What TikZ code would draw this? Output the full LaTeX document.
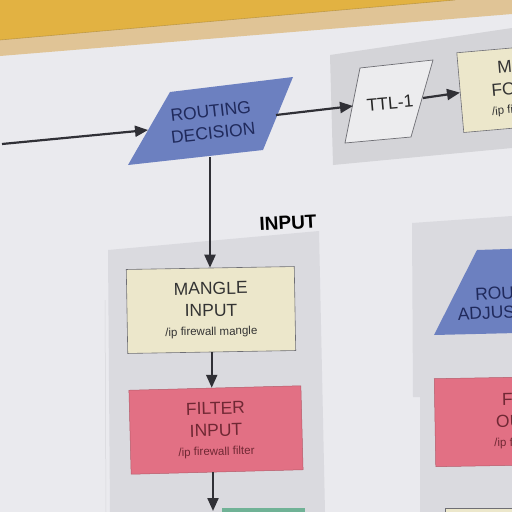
\documentclass[tikz,border=0pt]{standalone}
\usepackage{fontspec}
\setmainfont{Liberation Sans}
\usetikzlibrary{arrows.meta}

\definecolor{wall}{RGB}{226,178,66}
\definecolor{wood}{RGB}{224,196,150}
\definecolor{paper}{RGB}{234,234,238}
\definecolor{panel}{RGB}{218,218,223}
\definecolor{panelB}{RGB}{212,212,216}
\definecolor{routeblue}{RGB}{108,128,192}
\definecolor{routetext}{RGB}{32,42,92}
\definecolor{mangle}{RGB}{236,231,203}
\definecolor{filterpink}{RGB}{226,112,132}
\definecolor{filtertext}{RGB}{112,40,52}
\definecolor{ttlfill}{RGB}{236,236,238}
\definecolor{edge}{RGB}{110,110,116}
\definecolor{arrowgray}{RGB}{48,48,54}
\definecolor{acceptgreen}{RGB}{112,178,150}

\tikzset{
  flow/.style={draw=arrowgray, line width=2.2pt,
    -{Triangle[length=13pt,width=11pt]}},
  bigtext/.style={font=\fontsize{17.5}{22}\selectfont, align=center},
  mangleblock/.style={draw=edge, line width=0.6pt, fill=mangle,
    text=black!80, bigtext, inner sep=0pt},
  filterblock/.style={draw=filterpink!80!black, line width=0.5pt,
    fill=filterpink, text=filtertext, bigtext, inner sep=0pt},
}
\newcommand{\cmdline}[1]{\\[-3pt]{\fontsize{11.5}{13}\selectfont #1}}

\begin{document}
\begin{tikzpicture}[x=1pt,y=-1pt]
\useasboundingbox (0,0) rectangle (512,512);
\clip (0,0) rectangle (512,512);

% wall, wooden rail and poster sheet
\fill[paper] (0,0) rectangle (512,512);
\fill[wood] (0,0) -- (512,0) -- (512,14) -- (0,56) -- cycle;
\fill[wall] (0,0) -- (455,0) -- (0,40) -- cycle;
\draw[wall!70!black, line width=0.6pt, opacity=0.5] (0,40) -- (455,0);
\draw[paper!92!black, line width=0.5pt] (105,300) -- (106,512);

% chain panels
\fill[panelB] (330,55) -- (512,28) -- (512,148) -- (333,165) -- cycle;
\fill[panel] (108,250) -- (319,231) -- (325,512) -- (110,512) -- cycle;
\fill[panel] (412,223) -- (512,216) -- (512,512) -- (420,512) -- (420,397) -- (413,397) -- cycle;

% routing decision
\fill[routeblue] (128,165) -- (170,92) -- (293,77) -- (263,150) -- cycle;
\node[bigtext, text=routetext, rotate=6.5] (rd) at (212,122) {ROUTING\\DECISION};
\coordinate (rdW) at (148,130);
\coordinate (rdE) at (276,115);
\coordinate (rdS) at (210,157);
\coordinate (src) at (2,144);

% TTL-1
\filldraw[fill=ttlfill, draw=edge, line width=0.7pt]
  (345,143) -- (360,68) -- (433,60) -- (411,137) -- cycle;
\node[font=\fontsize{17.5}{20}\selectfont, text=black!85, rotate=5] (ttl) at (390,103) {TTL-1};
\coordinate (ttlW) at (353,106);
\coordinate (ttlE) at (423,98);

% mangle forward
\node[mangleblock, minimum width=152pt, minimum height=80pt, rotate=5] (mf) at (536,86)
  {MANGLE\\FORWARD\cmdline{/ip firewall mangle}};

% input chain
\node[font=\bfseries\fontsize{19}{22}\selectfont, rotate=3] (inlabel) at (288,223) {INPUT};
\node[mangleblock, minimum width=168pt, minimum height=84pt, rotate=1] (mi) at (211,310)
  {MANGLE\\INPUT\cmdline{/ip firewall mangle}};
\node[filterblock, minimum width=172pt, minimum height=84pt, rotate=1.5] (fi) at (216,430)
  {FILTER\\INPUT\cmdline{/ip firewall filter}};
\fill[acceptgreen] (222,508) rectangle (305,540);
\coordinate (fiOut) at (213,511);

% output chain
\fill[routeblue] (434,335) -- (477,250) -- (600,246) -- (600,331) -- cycle;
\node[bigtext, text=routetext, rotate=3, font=\fontsize{17.5}{19}\selectfont] (ra) at (516,302) {ROUTING\\ADJUSTMENT};
\node[filterblock, minimum width=194pt, minimum height=88pt, rotate=1] (fo) at (532,421)
  {FILTER\\OUTPUT\cmdline{/ip firewall filter}};
\fill[mangle] (445,508) rectangle (600,560);
\draw[edge, line width=0.6pt] (445,560) -- (445,508) -- (600,508);

% connectors
\draw[flow] (src) -- (rdW);
\draw[flow] (rdE) -- (ttlW);
\draw[flow] (ttlE) -- (mf.west);
\draw[flow] (rdS) -- (rdS |- mi.north);
\draw[flow] (mi.south) -- (mi.south |- fi.north);
\draw[flow] (fi.south -| fiOut) -- (fiOut);
\end{tikzpicture}
\end{document}
